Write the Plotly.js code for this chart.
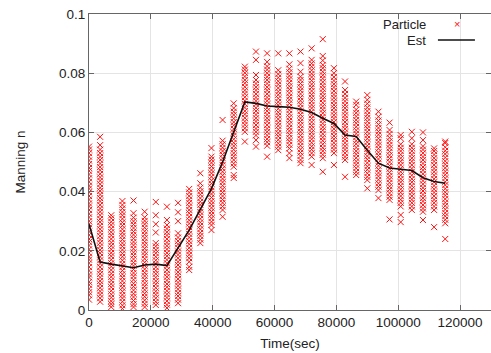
<!DOCTYPE html>
<html>
<head>
<meta charset="utf-8">
<script src="https://cdn.plot.ly/plotly-3.0.1.min.js"></script>
<style>html,body{margin:0;padding:0;background:#fff;}#chart{width:491px;height:353px;}</style>
</head>
<body>
<div id="chart"></div>
<script>
// Time of each particle column (sec)
const times = [0,3600,7200,10800,14400,18000,21600,25200,28800,32400,36000,39600,43200,46800,50400,54000,57600,61200,64800,68400,72000,75600,79200,82800,86400,90000,93600,97200,100800,104400,108000,111600,115200];

// Estimated Manning n (black line)
const est = [0.029,0.0162,0.0155,0.015,0.0143,0.0152,0.0155,0.015,0.021,0.027,0.034,0.041,0.050,0.060,0.0703,0.0698,0.0689,0.0687,0.0685,0.0678,0.0667,0.0648,0.063,0.0591,0.0586,0.054,0.0496,0.048,0.0475,0.0471,0.0447,0.0434,0.0428];

// Particle values at each time
const particleValues = [
 [0.0035,0.005,0.006,0.0072,0.0085,0.0095,0.011,0.012,0.0133,0.0145,0.0158,0.017,0.018,0.0193,0.0205,0.0218,0.023,0.024,0.0253,0.0265,0.0278,0.029,0.030,0.0313,0.0325,0.0338,0.035,0.036,0.0373,0.0385,0.0398,0.041,0.042,0.0433,0.0445,0.0458,0.047,0.048,0.0493,0.0505,0.0518,0.053,0.0542,0.0552],
 [0.0028,0.004,0.0052,0.0063,0.0075,0.0087,0.0098,0.011,0.0122,0.0133,0.0145,0.0157,0.0168,0.018,0.0192,0.0203,0.0215,0.0227,0.0238,0.025,0.0262,0.0273,0.0285,0.0297,0.0308,0.032,0.0332,0.0343,0.0355,0.0367,0.0378,0.039,0.0402,0.0413,0.0425,0.0437,0.0448,0.046,0.0472,0.0483,0.0495,0.0507,0.0518,0.053,0.0542,0.0557,0.0585],
 [0.001,0.002,0.003,0.0042,0.0053,0.0065,0.0077,0.0088,0.010,0.0112,0.0123,0.0135,0.0147,0.0158,0.017,0.0182,0.0193,0.0205,0.0217,0.0228,0.024,0.0252,0.0263,0.0275,0.0287,0.0298,0.031,0.032],
 [0.0005,0.0016,0.0028,0.004,0.0051,0.0063,0.0075,0.0086,0.0098,0.011,0.0121,0.0133,0.0145,0.0156,0.0168,0.018,0.0191,0.0203,0.0215,0.0226,0.0238,0.025,0.0261,0.0273,0.0285,0.0296,0.0308,0.032,0.0331,0.0343,0.0355,0.0368],
 [0.001,0.002,0.0032,0.0044,0.0055,0.0067,0.0079,0.009,0.0102,0.0114,0.0125,0.0137,0.0149,0.016,0.0172,0.0184,0.0195,0.0207,0.0219,0.023,0.0242,0.0254,0.0265,0.0277,0.0289,0.030,0.0312,0.0327,0.037],
 [0.001,0.0021,0.0033,0.0045,0.0056,0.0068,0.008,0.0091,0.0103,0.0115,0.0126,0.0138,0.015,0.0161,0.0173,0.0185,0.0196,0.0208,0.022,0.0231,0.0243,0.0255,0.0266,0.0278,0.029,0.0301,0.0313,0.0332],
 [0.0017,0.0028,0.004,0.0052,0.0063,0.0075,0.0087,0.0098,0.011,0.0122,0.0133,0.0145,0.0157,0.0168,0.018,0.0192,0.0203,0.0215,0.0226,0.0262,0.029,0.032,0.0365],
 [0.0007,0.0018,0.003,0.0042,0.0053,0.0065,0.0077,0.0088,0.010,0.0112,0.0123,0.0135,0.0147,0.0158,0.017,0.0182,0.0193,0.0205,0.0217,0.0228,0.024,0.0252,0.0263,0.0275,0.0287,0.0304,0.0349],
 [0.0023,0.0035,0.0047,0.0058,0.007,0.0082,0.0093,0.0105,0.0117,0.0128,0.014,0.0152,0.0163,0.0175,0.0187,0.0198,0.021,0.0222,0.0233,0.0245,0.0259,0.030,0.033,0.0362],
 [0.0135,0.0146,0.0163,0.0175,0.0187,0.0198,0.021,0.0222,0.0233,0.0245,0.0257,0.0268,0.028,0.0292,0.0303,0.0315,0.0327,0.0338,0.035,0.0362,0.0373,0.0385,0.0397,0.0409],
 [0.0226,0.0238,0.025,0.0261,0.0273,0.0285,0.0296,0.0308,0.032,0.0331,0.0343,0.0355,0.0366,0.0378,0.039,0.0401,0.0413,0.0428,0.0462],
 [0.027,0.0287,0.0298,0.031,0.0322,0.0333,0.0345,0.0357,0.0368,0.038,0.0392,0.0403,0.0415,0.0427,0.0438,0.045,0.0462,0.0473,0.0485,0.0497,0.0508,0.0518,0.0547],
 [0.0315,0.0338,0.035,0.0362,0.0373,0.0385,0.0397,0.0408,0.042,0.0432,0.0443,0.0455,0.0467,0.0478,0.049,0.0502,0.0513,0.0525,0.0537,0.0548,0.056,0.0572,0.0642],
 [0.0446,0.0456,0.0484,0.0495,0.0507,0.0519,0.053,0.0542,0.0554,0.0565,0.0577,0.0589,0.060,0.0612,0.0624,0.0635,0.0647,0.0659,0.067,0.0682,0.0698],
 [0.0569,0.0602,0.0614,0.0626,0.0637,0.0649,0.0661,0.0672,0.0684,0.0696,0.0707,0.0719,0.0731,0.0742,0.0754,0.0766,0.0777,0.0789,0.0801,0.0812,0.0822],
 [0.0552,0.0574,0.059,0.0602,0.0613,0.0625,0.0637,0.0648,0.066,0.0672,0.0683,0.0695,0.0707,0.0718,0.073,0.0742,0.0753,0.0765,0.0777,0.0794,0.0845,0.0873],
 [0.0518,0.0555,0.0567,0.0578,0.059,0.0602,0.0613,0.0625,0.0637,0.0648,0.066,0.0672,0.0683,0.0695,0.0707,0.0718,0.073,0.0742,0.0753,0.0765,0.0777,0.0788,0.080,0.0812,0.0823,0.0838,0.0867],
 [0.054,0.0552,0.0563,0.0575,0.0587,0.0598,0.061,0.0622,0.0633,0.0645,0.0657,0.0668,0.068,0.0692,0.0703,0.0715,0.0727,0.0738,0.075,0.0762,0.0773,0.0785,0.0797,0.081,0.0867],
 [0.0513,0.053,0.0546,0.0558,0.057,0.0581,0.0593,0.0605,0.0616,0.0628,0.064,0.0651,0.0663,0.0675,0.0686,0.0698,0.071,0.0721,0.0733,0.0745,0.0756,0.0768,0.078,0.0791,0.0803,0.0815,0.083,0.0867],
 [0.0496,0.0507,0.052,0.0532,0.0543,0.0555,0.0567,0.0578,0.059,0.0602,0.0613,0.0625,0.0637,0.0648,0.066,0.0672,0.0683,0.0695,0.0707,0.0718,0.073,0.0742,0.0753,0.0765,0.0777,0.0788,0.0805,0.0834,0.0873],
 [0.049,0.0518,0.053,0.0542,0.0553,0.0565,0.0577,0.0588,0.060,0.0612,0.0623,0.0635,0.0647,0.0658,0.067,0.0682,0.0693,0.0705,0.0717,0.0728,0.074,0.0752,0.0763,0.0775,0.0787,0.0798,0.081,0.0822,0.0833,0.0845,0.0884],
 [0.0467,0.0513,0.0525,0.0537,0.0548,0.056,0.0572,0.0583,0.0595,0.0607,0.0618,0.063,0.0642,0.0653,0.0665,0.0677,0.0688,0.070,0.0712,0.0723,0.0735,0.0747,0.0758,0.077,0.0782,0.0793,0.0805,0.0817,0.0828,0.0843,0.0858,0.0915],
 [0.049,0.053,0.0542,0.0553,0.0565,0.0577,0.0588,0.060,0.0612,0.0623,0.0635,0.0647,0.0658,0.067,0.0682,0.0693,0.0705,0.0717,0.0728,0.074,0.0752,0.0763,0.0775,0.0787,0.080,0.0817],
 [0.045,0.0507,0.0518,0.053,0.0542,0.0553,0.0565,0.0577,0.0588,0.060,0.0612,0.0623,0.0635,0.0647,0.0658,0.067,0.0682,0.0693,0.0705,0.0717,0.073,0.0743,0.0772],
 [0.0456,0.0467,0.0479,0.0491,0.0502,0.0514,0.0526,0.0537,0.0549,0.0561,0.0572,0.0584,0.0596,0.0607,0.0619,0.0631,0.0642,0.0654,0.0666,0.0677,0.0693,0.0704],
 [0.0411,0.0439,0.045,0.0462,0.0474,0.0485,0.0497,0.0509,0.052,0.0532,0.0544,0.0555,0.0567,0.0579,0.059,0.0602,0.0614,0.0625,0.0637,0.0649,0.066,0.0672,0.0684,0.0697,0.071,0.0726],
 [0.0378,0.0405,0.0417,0.0428,0.044,0.0452,0.0463,0.0475,0.0487,0.0498,0.051,0.0522,0.0533,0.0545,0.0557,0.0568,0.058,0.0592,0.0603,0.0615,0.0627,0.064,0.0653,0.067],
 [0.0306,0.0372,0.0383,0.0395,0.0407,0.0418,0.043,0.0442,0.0453,0.0465,0.0477,0.0488,0.050,0.0512,0.0523,0.0535,0.0547,0.0558,0.057,0.0582,0.0595,0.0608,0.0633],
 [0.0297,0.0321,0.035,0.0362,0.0373,0.0385,0.0397,0.0408,0.042,0.0432,0.0443,0.0455,0.0467,0.0478,0.049,0.0502,0.0513,0.0525,0.0537,0.0548,0.056,0.058,0.0591],
 [0.0338,0.035,0.0362,0.0373,0.0385,0.0397,0.0408,0.042,0.0432,0.0443,0.0455,0.0467,0.0478,0.049,0.0502,0.0513,0.0525,0.0537,0.0548,0.056,0.058,0.0602],
 [0.0304,0.0332,0.0343,0.0355,0.0367,0.0378,0.039,0.0402,0.0413,0.0425,0.0437,0.0448,0.046,0.0472,0.0483,0.0495,0.0507,0.0518,0.053,0.0542,0.0553,0.0574,0.060],
 [0.028,0.0338,0.035,0.0362,0.0373,0.0385,0.0397,0.0408,0.042,0.0432,0.0443,0.0455,0.0467,0.0478,0.049,0.0502,0.0513,0.0525,0.0537,0.0546],
 [0.024,0.0293,0.0305,0.0317,0.0328,0.034,0.0352,0.0363,0.0375,0.0387,0.0398,0.041,0.0422,0.0433,0.0445,0.0457,0.0468,0.048,0.0492,0.0503,0.0515,0.0527,0.0538,0.055,0.0564,0.0569]
];

const xTicks = [0,20000,40000,60000,80000,100000,120000];
const yTicks = [0,0.02,0.04,0.06,0.08,0.1];
const legendNames = ['Particle','Est'];

// Flatten particle columns into x/y pairs
const px = [], py = [];
particleValues.forEach((col, i) => col.forEach(v => { px.push(times[i]); py.push(v); }));

const FONT = 'Liberation Sans, Arial, Helvetica, sans-serif';
const RED = '#ff1010';

const traces = [
  {
    type: 'scatter', mode: 'markers', name: legendNames[0], x: px, y: py,
    marker: {symbol: 'x-thin-open', size: 6, color: RED, line: {color: RED, width: 1}},
    showlegend: false, hoverinfo: 'skip'
  },
  {
    type: 'scatter', mode: 'lines', name: legendNames[1], x: times, y: est,
    line: {color: '#111', width: 1.6},
    showlegend: false
  }
];

const axisCommon = {
  showline: true, linecolor: '#666', linewidth: 1, mirror: 'ticks',
  ticks: 'inside', ticklen: 5, tickcolor: '#666',
  showgrid: true, gridcolor: '#e4e4e4', gridwidth: 1, zeroline: false,
  tickfont: {family: FONT, size: 13.5, color: '#222'}
};

const layout = {
  width: 491, height: 353,
  margin: {l: 89, r: 0, t: 14, b: 43},
  paper_bgcolor: '#fff', plot_bgcolor: '#fff',
  font: {family: FONT, size: 13.5, color: '#222'},
  xaxis: Object.assign({}, axisCommon, {
    range: [0, 130000], tickvals: xTicks, ticktext: xTicks.map(String),
    title: {text: 'Time(sec)', font: {family: FONT, size: 13.5, color: '#222'}, standoff: 9}
  }),
  yaxis: Object.assign({}, axisCommon, {
    range: [0, 0.1], tickvals: yTicks, ticktext: yTicks.map(String),
    title: {text: 'Manning n', font: {family: FONT, size: 13.5, color: '#222'}, standoff: 30}
  }),
  annotations: [
    {xref: 'paper', yref: 'paper', x: 0.843, y: 0.963, xanchor: 'right', yanchor: 'middle', text: legendNames[0], showarrow: false, font: {family: FONT, size: 13, color: '#222'}},
    {xref: 'paper', yref: 'paper', x: 0.843, y: 0.912, xanchor: 'right', yanchor: 'middle', text: legendNames[1], showarrow: false, font: {family: FONT, size: 13, color: '#222'}},
    {xref: 'paper', yref: 'paper', x: 0.915, y: 0.965, xanchor: 'center', yanchor: 'middle', text: '×', showarrow: false, font: {family: FONT, size: 11, color: RED}}
  ],
  shapes: [
    {type: 'line', xref: 'paper', yref: 'paper', x0: 0.868, x1: 0.960, y0: 0.912, y1: 0.912, line: {color: '#111', width: 1.6}}
  ]
};

Plotly.newPlot('chart', traces, layout, {staticPlot: true, displayModeBar: false});
</script>
</body>
</html>
